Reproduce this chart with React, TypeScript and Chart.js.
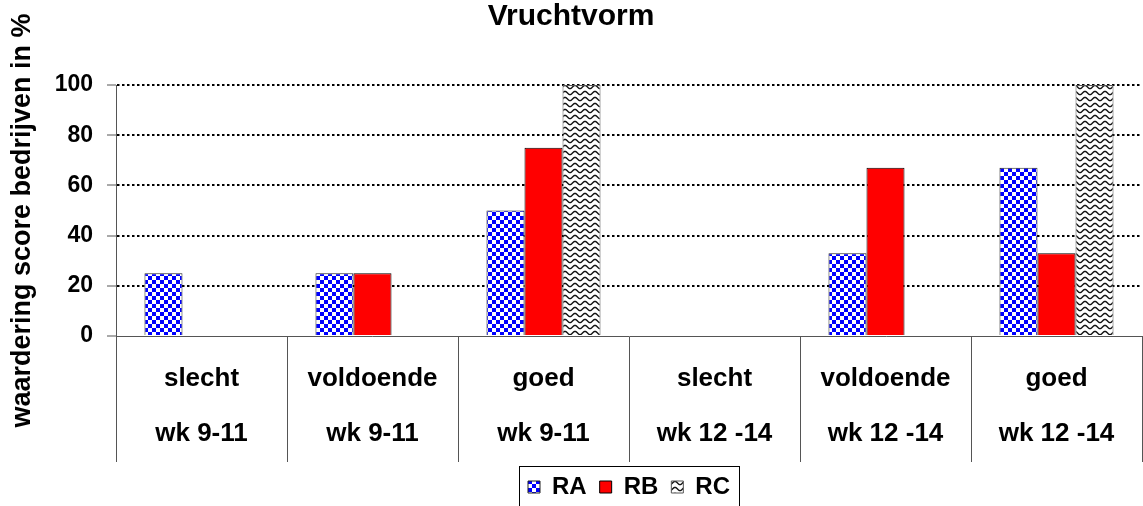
import React, { useEffect, useRef } from "react";
import { Chart, registerables } from "chart.js";

Chart.register(...registerables);

const chartTitle = "Vruchtvorm";
const yAxisTitle = "waardering score bedrijven in %";
const categories = ["slecht", "voldoende", "goed", "slecht", "voldoende", "goed"];
const periods = ["wk 9-11", "wk 9-11", "wk 9-11", "wk 12 -14", "wk 12 -14", "wk 12 -14"];
const seriesNames = ["RA", "RB", "RC"];
const raValues: (number | null)[] = [25, 25, 50, null, 33, 67];
const rbValues: (number | null)[] = [null, 25, 75, null, 67, 33];
const rcValues: (number | null)[] = [null, null, 100, null, null, 100];
const yTicks = [0, 20, 40, 60, 80, 100];

const FONT = '"Liberation Sans", Arial, sans-serif';

function checkerPattern(): CanvasPattern | string {
  const c = document.createElement("canvas");
  c.width = 8;
  c.height = 8;
  const g = c.getContext("2d");
  if (!g) return "#0000ff";
  g.fillStyle = "#ffffff";
  g.fillRect(0, 0, 8, 8);
  g.fillStyle = "#0000ff";
  g.fillRect(0, 0, 4, 4);
  g.fillRect(4, 4, 4, 4);
  return g.createPattern(c, "repeat") || "#0000ff";
}

function wavePattern(): CanvasPattern | string {
  const w = 10;
  const h = 6;
  const c = document.createElement("canvas");
  c.width = w;
  c.height = h;
  const g = c.getContext("2d");
  if (!g) return "#cccccc";
  g.fillStyle = "#ffffff";
  g.fillRect(0, 0, w, h);
  g.strokeStyle = "#111111";
  g.lineWidth = 1.4;
  g.beginPath();
  for (let x = -1; x <= w + 1; x += 0.5) {
    const y = 3 + 1.6 * Math.cos((2 * Math.PI * x) / w);
    if (x === -1) g.moveTo(x, y);
    else g.lineTo(x, y);
  }
  g.stroke();
  return g.createPattern(c, "repeat") || "#cccccc";
}

const legendBorder = {
  id: "legendBorder",
  afterDraw(chart: any) {
    const boxes = chart.legend && chart.legend.legendHitBoxes;
    if (!boxes || !boxes.length) return;
    const first = boxes[0];
    const last = boxes[boxes.length - 1];
    const cy = first.top + first.height / 2;
    const ctx = chart.ctx;
    ctx.save();
    ctx.strokeStyle = "#000";
    ctx.lineWidth = 1;
    const l = Math.round(first.left - 9) + 0.5;
    const r = Math.round(last.left + last.width + 9) + 0.5;
    const t = Math.round(cy - 21) + 0.5;
    ctx.strokeRect(l, t, r - l, chart.height + 10 - t);
    ctx.restore();
  },
};

// draws the y axis title, centred slightly below the plot centre as in the reference
const yTitlePlugin = {
  id: "yTitlePlugin",
  afterDraw(chart: any) {
    const ctx = chart.ctx;
    const area = chart.chartArea;
    ctx.save();
    ctx.translate(23, (area.top + area.bottom) / 2 + 10);
    ctx.rotate(-Math.PI / 2);
    ctx.fillStyle = "#000";
    ctx.font = `bold 27px ${FONT}`;
    ctx.textAlign = "center";
    ctx.textBaseline = "middle";
    ctx.fillText(yAxisTitle, 0, 0);
    ctx.restore();
  },
};

export default function App() {
  const ref = useRef<HTMLCanvasElement | null>(null);

  useEffect(() => {
    if (!ref.current) return;
    const checker = checkerPattern();
    const wave = wavePattern();
    const chart = new Chart(ref.current, {
      type: "bar",
      data: {
        labels: categories.map((c, i) => [c, periods[i]]),
        datasets: [
          {
            label: seriesNames[0],
            data: raValues,
            backgroundColor: checker as any,
            borderColor: "#222222",
            borderWidth: 1,
          },
          {
            label: seriesNames[1],
            data: rbValues,
            backgroundColor: "#ff0000",
            borderColor: "#000000",
            borderWidth: 1,
          },
          {
            label: seriesNames[2],
            data: rcValues,
            backgroundColor: wave as any,
            borderColor: "#555555",
            borderWidth: 1,
          },
        ],
      },
      options: {
        animation: false,
        responsive: false,
        devicePixelRatio: 1,
        layout: { padding: { left: 0, right: 1, top: 0, bottom: 0 } },
        datasets: {
          bar: { categoryPercentage: 0.667, barPercentage: 1 },
        },
        plugins: {
          title: {
            display: true,
            text: chartTitle,
            color: "#000",
            font: { family: FONT, size: 30, weight: "bold", lineHeight: 1 },
            padding: { top: 2, bottom: 53 },
          },
          legend: {
            display: true,
            position: "bottom",
            fullSize: false,
            labels: {
              color: "#000",
              font: { family: FONT, size: 24, weight: "bold" },
              boxWidth: 12,
              boxHeight: 12,
              padding: 13,
            },
          },
          tooltip: { enabled: false },
        },
        scales: {
          x: {
            afterFit: (s: any) => {
              s.height = 126;
            },
            grid: {
              offset: true,
              drawOnChartArea: false,
              drawTicks: true,
              tickLength: 126,
              tickColor: "#555555",
              tickWidth: 1,
            },
            border: { display: true, color: "#555555", width: 1 },
            ticks: {
              color: "#000",
              font: { family: FONT, size: 26, weight: "bold", lineHeight: 2.1 },
              padding: -110,
              autoSkip: false,
              maxRotation: 0,
              minRotation: 0,
            },
          },
          y: {
            min: yTicks[0],
            max: yTicks[yTicks.length - 1],
            afterFit: (s: any) => {
              s.width = 116;
            },
            ticks: {
              stepSize: yTicks[1] - yTicks[0],
              color: "#000",
              font: { family: FONT, size: 23, weight: "bold" },
              padding: 14,
            },
            grid: {
              color: (ctx: any) => (ctx.tick && ctx.tick.value === 0 ? "rgba(0,0,0,0)" : "#000000"),
              lineWidth: 2,
              drawTicks: true,
              tickLength: 9,
              tickColor: "#555555",
              tickWidth: 1,
            },
            border: { display: true, color: "#555555", width: 1, dash: [2.5, 2.5] },
            title: { display: false },
          },
        },
      },
      plugins: [legendBorder, yTitlePlugin],
    } as any);
    return () => chart.destroy();
  }, []);

  return (
    <div
      style={{
        position: "absolute",
        left: 0,
        top: 0,
        width: 1143,
        height: 506,
        overflow: "hidden",
        background: "#ffffff",
      }}
    >
      <canvas ref={ref} width={1143} height={509} style={{ display: "block" }} />
    </div>
  );
}
